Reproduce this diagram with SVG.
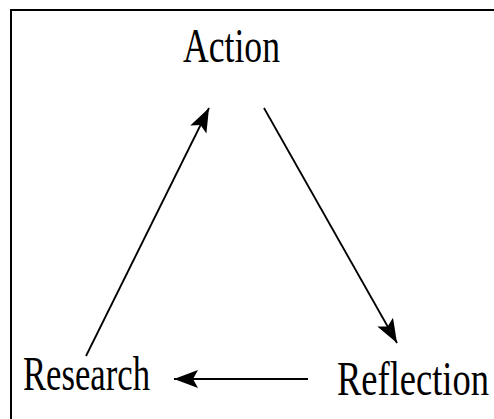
<svg xmlns="http://www.w3.org/2000/svg" width="494" height="419" viewBox="0 0 494 419">
<style>
.lbl{font-family:"Liberation Serif","Times New Roman",serif;font-size:48px;fill:#000}
.conn{stroke:#000;stroke-width:1.8;fill:none}
</style>
<defs>
<marker id="ah" markerUnits="userSpaceOnUse" markerWidth="26" markerHeight="20" refX="24" refY="9" orient="auto">
<path d="M0,0 L24,9 L0,18 L5,9 Z" fill="#000"/>
</marker>
</defs>
<rect x="0" y="0" width="494" height="419" fill="#fff"/>
<rect x="11" y="10" width="500" height="420" fill="none" stroke="#000" stroke-width="2"/>
<g id="action"><text class="lbl" x="183" y="62" textLength="97" lengthAdjust="spacingAndGlyphs">Action</text></g>
<g id="research"><text class="lbl" x="23" y="390" textLength="127" lengthAdjust="spacingAndGlyphs">Research</text></g>
<g id="reflection"><text class="lbl" x="337" y="395" textLength="152" lengthAdjust="spacingAndGlyphs">Reflection</text></g>
<g id="connectors">
<line class="conn" x1="86" y1="356" x2="209" y2="108" marker-end="url(#ah)"/>
<line class="conn" x1="264" y1="108" x2="397" y2="343" marker-end="url(#ah)"/>
<line class="conn" x1="308" y1="379" x2="174" y2="379" marker-end="url(#ah)"/>
</g>
</svg>
